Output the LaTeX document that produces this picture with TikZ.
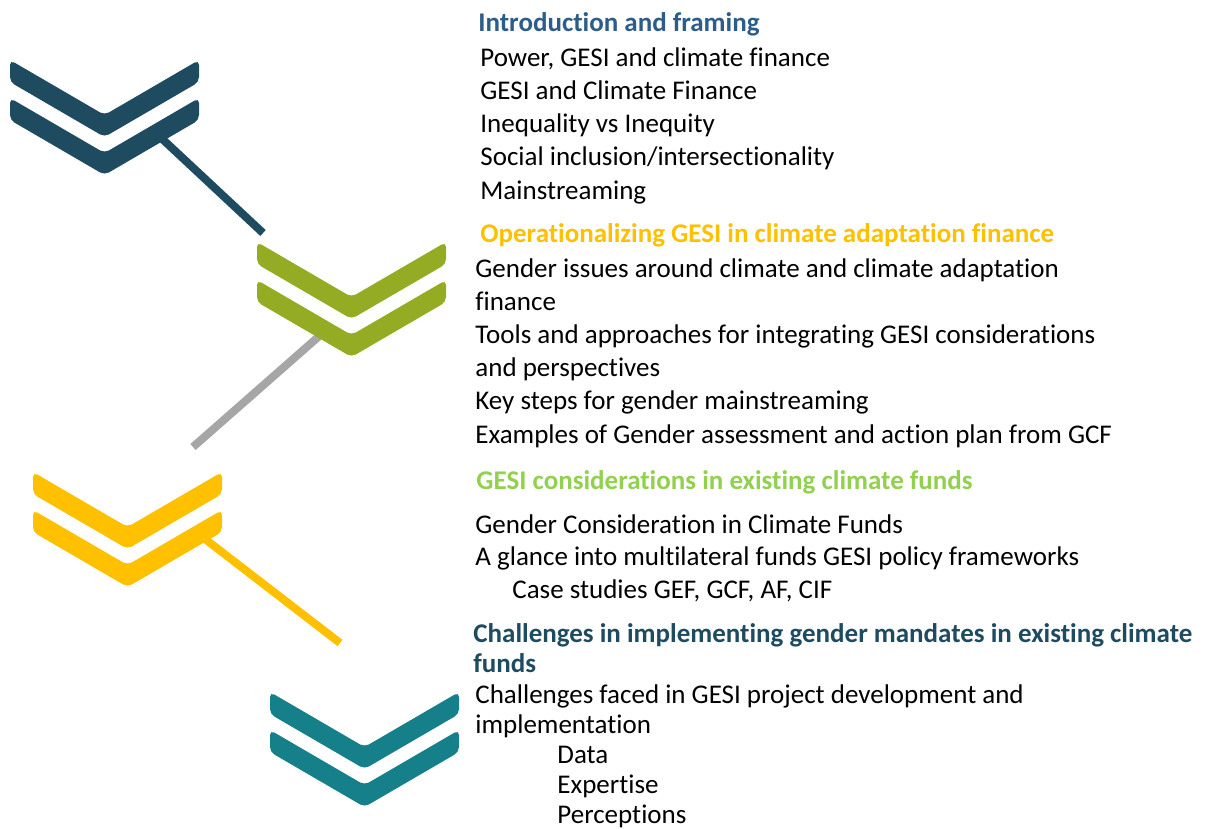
\documentclass[tikz,border=0pt]{standalone}
\usepackage{fontspec}
\setmainfont{Carlito}[Ligatures=NoCommon]
\usepackage{tikz}
\usetikzlibrary{positioning}
\definecolor{gsnavy}{HTML}{1E4B5F}
\definecolor{gsolive}{HTML}{93AC23}
\definecolor{gsyellow}{HTML}{FFC000}
\definecolor{gsteal}{HTML}{157F8A}
\definecolor{gsgray}{HTML}{A6A6A6}
\definecolor{gsblue}{HTML}{2C5C8A}
\definecolor{gsgreen}{HTML}{92D050}
\tikzstyle{headtext} = [anchor=base west, inner sep=0pt, align=left, font=\bfseries\fontsize{13.5pt}{16.6pt}\selectfont]
\tikzstyle{bodytext} = [anchor=base west, inner sep=0pt, align=left, text=black, font=\fontsize{13.5pt}{16.6pt}\selectfont]
\tikzstyle{link} = [line width=4pt]
% two stacked bands, top left corner at (#1,#2)
\newcommand{\chevronpair}[3]{
  \foreach \off in {0,38}{
    \fill[#3, rounded corners=2.5pt] (#1,#2+\off) -- ++(94.5,55) -- ++(94.5,-55) -- ++(0,22) -- ++(-94.5,55) -- ++(-94.5,-55) -- cycle;
  }
}

\begin{document}
\begin{tikzpicture}[x=0.5pt, y=-0.5pt]
\useasboundingbox (0,0) rectangle (1210,829);

% connectors
\coordinate (navyfoot) at (158,135);
\coordinate (navytip) at (263,233);
\coordinate (grayfoot) at (325,331);
\coordinate (graytip) at (193,447);
\coordinate (yellowfoot) at (205,539);
\coordinate (yellowtip) at (340,643);
\draw[link, gsnavy] (navyfoot) -- (navytip);
\draw[link, gsgray] (grayfoot) -- (graytip);
\draw[link, gsyellow] (yellowfoot) -- (yellowtip);

% chevrons
\chevronpair{10}{60}{gsnavy}
\chevronpair{257}{242}{gsolive}
\chevronpair{33}{472}{gsyellow}
\chevronpair{270}{692}{gsteal}

% block 1 (nodes sit on the baseline of their last line)
\node[headtext, text=gsblue] (h1) at (478,32) {Introduction and framing};
\node[bodytext] (b1) at (480,199) {Power, GESI and climate finance\\
GESI and Climate Finance\\
Inequality vs Inequity\\
Social inclusion/intersectionality\\
Mainstreaming};

% block 2
\node[headtext, text=gsyellow] (h2) at (480,242) {Operationalizing GESI in climate adaptation finance};
\node[bodytext] (b2) at (475,443) {Gender issues around climate and climate adaptation\\
finance\\
Tools and approaches for integrating GESI considerations\\
and perspectives\\
Key steps for gender mainstreaming\\
Examples of Gender assessment and action plan from GCF};

% block 3
\node[headtext, text=gsgreen] (h3) at (476,489) {GESI considerations in existing climate funds};
\node[bodytext, font=\fontsize{13.5pt}{16.25pt}\selectfont] (b3) at (475,598) {Gender Consideration in Climate Funds\\
A glance into multilateral funds GESI policy frameworks\\
\hspace*{18.5pt}Case studies GEF, GCF, AF, CIF};

% block 4
\node[headtext, text=gsnavy, font=\bfseries\fontsize{13.5pt}{15pt}\selectfont] (h4) at (473,672) {Challenges in implementing gender mandates in existing climate\\
funds};
\node[bodytext, font=\fontsize{13.5pt}{15pt}\selectfont] (b4) at (475,823) {Challenges faced in GESI project development and\\
implementation\\
\hspace*{41pt}Data\\
\hspace*{41pt}Expertise\\
\hspace*{41pt}Perceptions};
\end{tikzpicture}
\end{document}
